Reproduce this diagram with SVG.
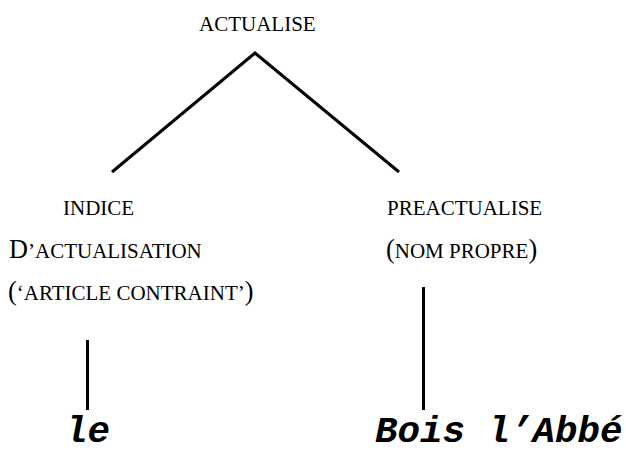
<svg xmlns="http://www.w3.org/2000/svg" width="626" height="452" viewBox="0 0 626 452">
  <style>
    .lbl { font-family: "Liberation Serif", "Times New Roman", serif; font-size: 26.25px; fill: #000; }
    .sc { font-size: 21px; }
    .word { font-family: "Liberation Mono", "Courier New", monospace; font-weight: bold; font-style: italic; font-size: 37.5px; fill: #000; }
    .edge { stroke: #000; stroke-width: 3; fill: none; }
  </style>
  <rect width="626" height="452" fill="#fff"/>

  <!-- tree branches -->
  <g id="connectors">
    <polyline class="edge" points="112,172 255,53 399,172"/>
    <line class="edge" x1="87.5" y1="340" x2="87.5" y2="410"/>
    <line class="edge" x1="423.5" y1="287" x2="423.5" y2="410"/>
  </g>

  <g id="actualise">
    <text class="lbl sc" x="199" y="31">ACTUALISE</text>
  </g>

  <g id="indice">
    <text class="lbl sc" x="63" y="215">INDICE</text>
    <text class="lbl" x="9" y="258">D<tspan class="sc">’ACTUALISATION</tspan></text>
    <text class="lbl" x="8" y="300">(<tspan class="sc">‘ARTICLE CONTRAINT’</tspan>)</text>
  </g>

  <g id="preactualise">
    <text class="lbl sc" x="387" y="215">PREACTUALISE</text>
    <text class="lbl" x="386" y="258">(<tspan class="sc">NOM PROPRE</tspan>)</text>
  </g>

  <g id="le">
    <text class="word" x="65" y="442">le</text>
  </g>

  <g id="bois">
    <text class="word" x="375" y="442">Bois l’Abbé</text>
  </g>
</svg>
